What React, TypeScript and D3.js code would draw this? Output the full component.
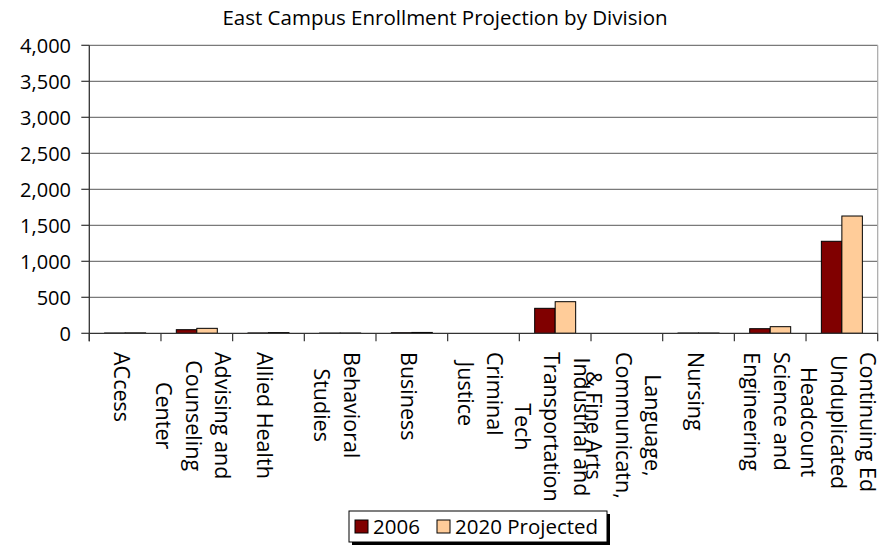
import React, { useMemo } from "react";
import * as d3 from "d3";

const title = "East Campus Enrollment Projection by Division";
const categories = [
  "ACcess",
  "Advising and Counseling Center",
  "Allied Health",
  "Behavioral Studies",
  "Business",
  "Criminal Justice",
  "Industrial and Transportation Tech",
  "Language, Communicatn, & Fine Arts",
  "Nursing",
  "Science and Engineering",
  "Continuing Ed Unduplicated Headcount",
];
const categoryLines = [
  ["ACcess"],
  ["Advising and", "Counseling", "Center"],
  ["Allied Health"],
  ["Behavioral", "Studies"],
  ["Business"],
  ["Criminal", "Justice"],
  ["Industrial and", "Transportation", "Tech"],
  ["Language,", "Communicatn,", "& Fine Arts"],
  ["Nursing"],
  ["Science and", "Engineering"],
  ["Continuing Ed", "Unduplicated", "Headcount"],
];
const seriesNames = ["2006", "2020 Projected"];
const values2006 = [4, 50, 5, 3, 8, 0, 347, 0, 4, 64, 1278];
const values2020 = [6, 69, 10, 4, 12, 0, 439, 0, 4, 92, 1629];
const yTicks = [0, 500, 1000, 1500, 2000, 2500, 3000, 3500, 4000];
const colors = ["#800000", "#FFCC99"];

const W = 879;
const H = 550;
const FONT = "'Open Sans', 'Noto Sans', sans-serif";

export default function App() {
  const left = 89.3;
  const right = 877.7;
  const top = 45.3;
  const bottom = 333.3;

  const x = d3.scaleBand<string>().domain(categories).range([left, right]).paddingInner(0).paddingOuter(0);
  const bw = x.bandwidth();
  const x1 = d3
    .scaleBand<string>()
    .domain(seriesNames)
    .range([bw * 0.214, bw * 0.786])
    .padding(0);
  const y = d3.scaleLinear().domain([0, 4000]).range([bottom, top]);
  const fmt = d3.format(",");
  const series = [values2006, values2020];

  const labelFontSize = 21.5;
  const widths = useMemo(() => {
    const c = document.createElement("canvas").getContext("2d");
    if (!c) return categoryLines.map(() => 120);
    c.font = `${labelFontSize}px 'Open Sans'`;
    return categoryLines.map((ls) => Math.max(...ls.map((l) => c.measureText(l).width)));
  }, []);

  const boundaries = d3.range(categories.length + 1).map((i) => left + i * bw);
  const lineH = 29.5;

  return (
    <svg width={W} height={H} style={{ display: "block", position: "absolute", left: 0, top: 0, background: "#fff" }}>
      <rect x={0} y={0} width={W} height={H} fill="#fff" />
      <text x={445} y={25} textAnchor="middle" fontFamily={FONT} fontSize={20.5} fill="#000">
        {title}
      </text>
      {/* gridlines */}
      {yTicks.slice(1).map((t) => (
        <line key={t} x1={left} x2={right} y1={y(t)} y2={y(t)} stroke="#7a7a7a" strokeWidth={1.2} />
      ))}
      {/* right border */}
      <line x1={right} x2={right} y1={top} y2={bottom} stroke="#a8a8a8" strokeWidth={1.2} />
      {/* bars */}
      {categories.map((c, i) => (
        <g key={c} transform={`translate(${x(c)},0)`}>
          {series.map((vals, s) =>
            vals[i] > 0 ? (
              <rect
                key={s}
                x={x1(seriesNames[s])}
                y={y(vals[i])}
                width={x1.bandwidth()}
                height={bottom - y(vals[i])}
                fill={colors[s]}
                stroke="#000"
                strokeWidth={1}
              />
            ) : null
          )}
        </g>
      ))}
      {/* y axis */}
      <line x1={left} x2={left} y1={top} y2={bottom + 8} stroke="#333" strokeWidth={1.3} />
      {yTicks.map((t) => (
        <g key={t}>
          <line x1={left - 8} x2={left} y1={y(t)} y2={y(t)} stroke="#333" strokeWidth={1.2} />
          <text
            x={71}
            y={y(t)}
            dy="0.36em"
            textAnchor="end"
            fontFamily={FONT}
            fontSize={20}
            fill="#000"
          >
            {fmt(t)}
          </text>
        </g>
      ))}
      {/* x axis */}
      <line x1={left} x2={right} y1={bottom} y2={bottom} stroke="#333" strokeWidth={1.3} />
      {boundaries.map((b, i) => (
        <line key={i} x1={b} x2={b} y1={bottom} y2={bottom + 8} stroke="#333" strokeWidth={1.2} />
      ))}
      {categoryLines.map((ls, i) => {
        const cx = (x(categories[i]) as number) + bw / 2 - 2.5;
        const mw = widths[i];
        return (
          <g key={i} transform={`translate(${cx},352) rotate(90)`}>
            {ls.map((l, j) => (
              <text
                key={j}
                x={mw / 2}
                y={(j - (ls.length - 1) / 2) * lineH}
                textAnchor="middle"
                dominantBaseline="central"
                fontFamily={FONT}
                fontSize={labelFontSize}
                fill="#000"
              >
                {l}
              </text>
            ))}
          </g>
        );
      })}
      {/* legend */}
      <rect x={352} y={514} width={258} height={31} fill="#000" />
      <rect x={349} y={511} width={258} height={31} fill="#fff" stroke="#000" strokeWidth={1} />
      {seriesNames.map((n, i) => {
        const sx = i === 0 ? 355 : 437;
        return (
          <g key={n}>
            <rect x={sx} y={520} width={13} height={13} fill={colors[i]} stroke="#000" strokeWidth={1} />
            <text x={sx + 18} y={527} dy="0.36em" fontFamily={FONT} fontSize={20.5} fill="#000">
              {n}
            </text>
          </g>
        );
      })}
    </svg>
  );
}
